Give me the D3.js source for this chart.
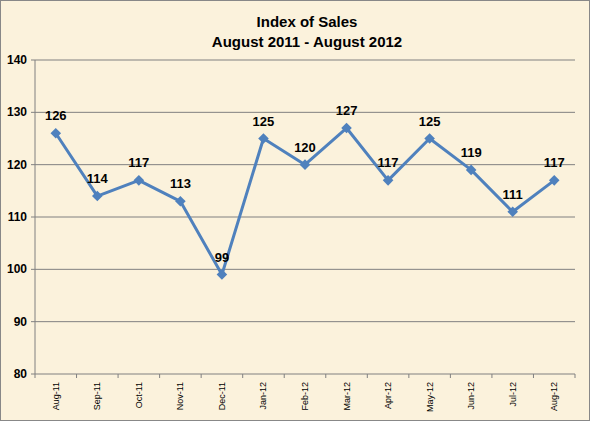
<!DOCTYPE html><html><head><script src="https://cdn.jsdelivr.net/npm/d3@7"></script>
<style>body{margin:0}svg{font-family:Arial,"Liberation Sans",sans-serif}</style></head><body><svg width="590" height="421"></svg>
<script>
const categories=["Aug-11","Sep-11","Oct-11","Nov-11","Dec-11","Jan-12","Feb-12","Mar-12","Apr-12","May-12","Jun-12","Jul-12","Aug-12"];
const values=[126,114,117,113,99,125,120,127,117,125,119,111,117];
const yTicks=[80,90,100,110,120,130,140];
const svg=d3.select("svg");
svg.append("rect").attr("x",0.5).attr("y",0.5).attr("width",589).attr("height",420).attr("fill","#fbf2dc").attr("stroke","#888");
const L=35,R=575,T=60,B=374;
const x=d3.scaleBand().domain(categories).range([L,R]);
const y=d3.scaleLinear().domain([80,140]).range([B,T]);
const g=svg.append("g");
g.selectAll(".grid").data(yTicks).join("line").attr("x1",L-4).attr("x2",R).attr("y1",d=>y(d)).attr("y2",d=>y(d)).attr("stroke","#808080").attr("stroke-width",1);
g.append("line").attr("x1",L).attr("x2",L).attr("y1",T).attr("y2",B).attr("stroke","#808080");
g.selectAll(".yl").data(yTicks).join("text").attr("x",L-8).attr("y",d=>y(d)+4).attr("text-anchor","end").attr("font-size",12).attr("font-weight","bold").text(d=>d);
const xt=[...categories.map(c=>x(c)),R];
g.selectAll(".xt").data(xt).join("line").attr("x1",d=>d).attr("x2",d=>d).attr("y1",B).attr("y2",B+4).attr("stroke","#808080");
g.selectAll(".xl").data(categories).join("text").attr("transform",c=>`translate(${x(c)+x.bandwidth()/2+3},${B+8}) rotate(-90)`).attr("text-anchor","end").attr("font-size",9).text(c=>c);
const cx=(c)=>x(c)+x.bandwidth()/2;
g.append("path").datum(values).attr("fill","none").attr("stroke","#4f81bd").attr("stroke-width",3).attr("stroke-linejoin","round")
 .attr("d",d3.line().x((d,i)=>cx(categories[i])).y(d=>y(d)));
g.selectAll(".m").data(values).join("path").attr("d",d3.symbol(d3.symbolSquare,56)).attr("transform",(d,i)=>`translate(${cx(categories[i])},${y(d)}) rotate(45)`).attr("fill","#4f81bd");
g.selectAll(".v").data(values).join("text").attr("x",(d,i)=>cx(categories[i])).attr("y",d=>y(d)-13).attr("text-anchor","middle").attr("font-size",13).attr("font-weight","bold").text(d=>d);
svg.append("text").attr("x",307).attr("y",27).attr("text-anchor","middle").attr("font-size",15).attr("font-weight","bold").text("Index of Sales");
svg.append("text").attr("x",307).attr("y",47).attr("text-anchor","middle").attr("font-size",15).attr("font-weight","bold").text("August 2011 - August 2012");
</script></body></html>
